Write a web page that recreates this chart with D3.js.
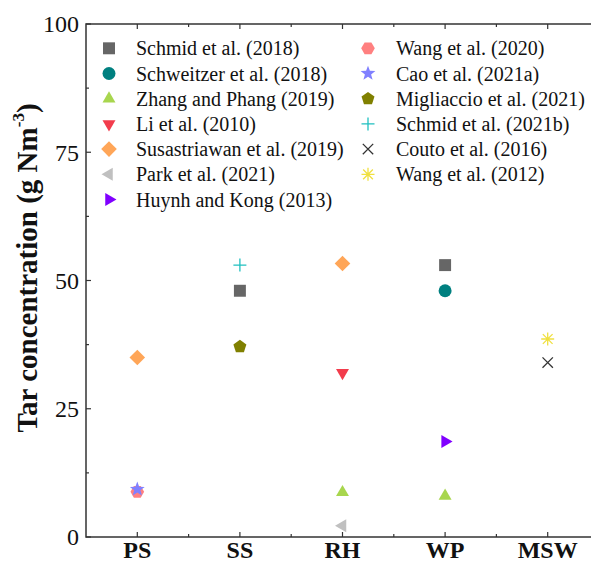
<!DOCTYPE html>
<html><head><meta charset="utf-8">
<script src="https://cdn.jsdelivr.net/npm/d3@7"></script>
<style>
body{margin:0;background:#fff;}
svg{display:block;}
</style></head>
<body>
<svg id="chart" width="591" height="565"></svg>
<script>
const categories = ["PS","SS","RH","WP","MSW"];
const yTicks = [0,25,50,75,100];
const studies = ["Schmid et al. (2018)","Schweitzer et al. (2018)","Zhang and Phang (2019)","Li et al. (2010)","Susastriawan et al. (2019)","Park et al. (2021)","Huynh and Kong (2013)","Wang et al. (2020)","Cao et al. (2021a)","Migliaccio et al. (2021)","Schmid et al. (2021b)","Couto et al. (2016)","Wang et al. (2012)"];
const shapes = ["square","circle","triUp","triDown","diamond","triLeft","triRight","hexagon","star","pentagon","plus","cross","asterisk"];
const colors = ["#666666","#008080","#a8d64e","#f23c4c","#ffa658","#c0c0c0","#8000ff","#ff8080","#8080ff","#808000","#20c0c0","#333333","#f0e040"];
// values per study: [study, category, value]
const points = [
  ["Schmid et al. (2018)","SS",48],["Schmid et al. (2018)","WP",53],
  ["Schweitzer et al. (2018)","WP",48],
  ["Zhang and Phang (2019)","RH",8.7],["Zhang and Phang (2019)","WP",8.0],
  ["Li et al. (2010)","RH",32],
  ["Susastriawan et al. (2019)","PS",35],["Susastriawan et al. (2019)","RH",53.3],
  ["Park et al. (2021)","RH",2.2],
  ["Huynh and Kong (2013)","WP",18.6],
  ["Wang et al. (2020)","PS",8.8],
  ["Cao et al. (2021a)","PS",9.3],
  ["Migliaccio et al. (2021)","SS",37.1],
  ["Schmid et al. (2021b)","SS",53],
  ["Couto et al. (2016)","MSW",34],
  ["Wang et al. (2012)","MSW",38.6]
];

const FONT = "'Times New Roman','Liberation Serif',serif";
const svg = d3.select("#chart");
const L=86, T=24, B=537, R=599;
const x = d3.scalePoint().domain(categories).range([L,R]).padding(0.5);
const y = d3.scaleLinear().domain([0,100]).range([B,T]);
const step = x.step();

function shapePath(s, r){
  const p = d3.path();
  const poly = (n, rot, rad) => {
    for(let i=0;i<n;i++){const a=rot+i*2*Math.PI/n; const px=rad*Math.cos(a), py=rad*Math.sin(a); i?p.lineTo(px,py):p.moveTo(px,py);} p.closePath();
  };
  switch(s){
    case "square": p.rect(-r*0.92,-r*0.92,r*1.84,r*1.84); break;
    case "circle": p.arc(0,0,r,0,2*Math.PI); break;
    case "triUp": poly(3,-Math.PI/2,r*1.15); break;
    case "triDown": poly(3,Math.PI/2,r*1.15); break;
    case "triLeft": poly(3,Math.PI,r*1.15); break;
    case "triRight": poly(3,0,r*1.15); break;
    case "diamond": poly(4,0,r*1.2); break;
    case "hexagon": poly(6,0,r*1.05); break;
    case "pentagon": poly(5,-Math.PI/2,r*1.05); break;
    case "star": {
      for(let i=0;i<10;i++){const a=-Math.PI/2+i*Math.PI/5; const rad=i%2?r*0.5:r*1.2; const px=rad*Math.cos(a), py=rad*Math.sin(a); i?p.lineTo(px,py):p.moveTo(px,py);} p.closePath(); break;}
    case "plus": p.moveTo(-r,0);p.lineTo(r,0);p.moveTo(0,-r);p.lineTo(0,r); break;
    case "cross": {const q=r*0.8; p.moveTo(-q,-q);p.lineTo(q,q);p.moveTo(-q,q);p.lineTo(q,-q); break;}
    case "asterisk": {const q=r*0.75; p.moveTo(-r,0);p.lineTo(r,0);p.moveTo(0,-r);p.lineTo(0,r);p.moveTo(-q,-q);p.lineTo(q,q);p.moveTo(-q,q);p.lineTo(q,-q); break;}
  }
  return p.toString();
}
const stroked = new Set(["plus","cross","asterisk"]);
function drawMarker(g, s, c){
  g.append("path").attr("d", shapePath(s, 6.5))
    .attr("fill", stroked.has(s) ? "none" : c)
    .attr("stroke", stroked.has(s) ? c : "none")
    .attr("stroke-width", 1.3);
}

// frame
svg.append("rect").attr("x",L).attr("y",T).attr("width",R-L).attr("height",B-T)
  .attr("fill","none").attr("stroke","#333").attr("stroke-width",1.5);

// y ticks
const yMinor = d3.range(12.5,100,25);
const axG = svg.append("g").attr("stroke","#333").attr("stroke-width",1.2);
yTicks.forEach(v=>{ axG.append("line").attr("x1",L).attr("x2",L+5).attr("y1",y(v)).attr("y2",y(v)); });
yMinor.forEach(v=>{ axG.append("line").attr("x1",L).attr("x2",L+3).attr("y1",y(v)).attr("y2",y(v)); });
svg.selectAll(".ytl").data(yTicks).join("text")
  .attr("x",L-7).attr("y",d=>y(d)).attr("dy","0.35em").attr("text-anchor","end")
  .attr("font-family",FONT).attr("font-size",24).attr("fill","#111").text(d=>d);

// x ticks (bottom and top)
categories.forEach(c=>{
  const cx=x(c);
  axG.append("line").attr("x1",cx).attr("x2",cx).attr("y1",B).attr("y2",B-5);
  axG.append("line").attr("x1",cx).attr("x2",cx).attr("y1",T).attr("y2",T+5);
  const mx = cx+step/2;
  axG.append("line").attr("x1",mx).attr("x2",mx).attr("y1",B).attr("y2",B-3);
  axG.append("line").attr("x1",mx).attr("x2",mx).attr("y1",T).attr("y2",T+3);
});
svg.selectAll(".xtl").data(categories).join("text")
  .attr("x",d=>x(d)).attr("y",558).attr("text-anchor","middle")
  .attr("font-family",FONT).attr("font-size",24).attr("font-weight","bold").attr("fill","#111").text(d=>d);

// y title
const yt = svg.append("text").attr("transform","translate(37,268) rotate(-90)")
  .attr("text-anchor","middle").attr("font-family",FONT).attr("font-size",29).attr("font-weight","bold").attr("fill","#111");
yt.append("tspan").text("Tar concentration (g Nm");
yt.append("tspan").attr("font-size",17).attr("dy",-13).text("-3");
yt.append("tspan").attr("dy",13).text(")");

// points
points.forEach(([st,cat,v])=>{
  const i = studies.indexOf(st);
  const g = svg.append("g").attr("transform",`translate(${x(cat)},${y(v)})`);
  drawMarker(g, shapes[i], colors[i]);
});

// legend
const leg1 = studies.slice(0,7), leg2 = studies.slice(7);
const rowY = d => 48.3 + d*25.2;
leg1.forEach((st,k)=>{
  const i = studies.indexOf(st);
  const g = svg.append("g").attr("transform",`translate(109,${rowY(k)})`);
  drawMarker(g, shapes[i], colors[i]);
  svg.append("text").attr("x",136).attr("y",rowY(k)).attr("dy","0.35em").attr("font-family",FONT).attr("font-size",20).attr("fill","#111").text(st);
});
leg2.forEach((st,k)=>{
  const i = studies.indexOf(st);
  const g = svg.append("g").attr("transform",`translate(368,${rowY(k)})`);
  drawMarker(g, shapes[i], colors[i]);
  svg.append("text").attr("x",396).attr("y",rowY(k)).attr("dy","0.35em").attr("font-family",FONT).attr("font-size",20).attr("fill","#111").text(st);
});
</script>
</body></html>
